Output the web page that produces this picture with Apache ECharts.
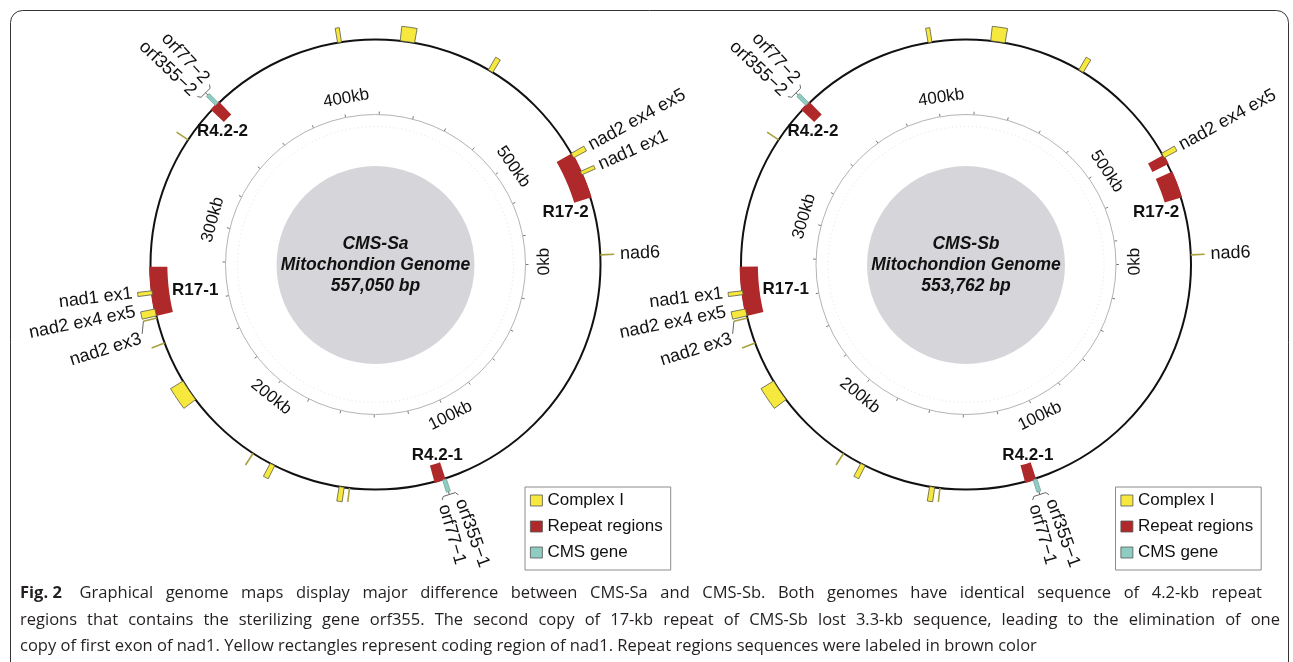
<!DOCTYPE html>
<html><head><meta charset="utf-8">
<script src="https://cdn.jsdelivr.net/npm/echarts@6/dist/echarts.min.js"></script>
<style>html,body{margin:0;padding:0;background:#fff}#c{width:1293px;height:662px}</style>
</head><body><div id="c"></div><script>
// ---------------- DATA ----------------
const GENOME_NAMES = ['CMS-Sa', 'CMS-Sb'];
const GENOME_LENGTHS = [557050, 553762];
const TICK_VALUES = [0, 100000, 200000, 300000, 400000, 500000];
const TICK_LABELS = ['0kb', '100kb', '200kb', '300kb', '400kb', '500kb'];
const TICK_STEP = 20000;

// Complex I genes [start, end] (bp)
const SA_COMPLEX1 = [
  [149320,149790],[151640,153650],[180420,182430],[190020,190480],[221430,230250],
  [246650,247110],[257020,257480],[258100,260880],[266610,268160],[330360,330830],
  [402780,404330],[427540,433260],[464370,466380],[511250,513260],[519290,520690],[553030,553500]];
const SB_COMPLEX1 = [
  [148440,148900],[150750,152750],[179360,181360],[188890,189360],[220120,228890],
  [245190,245650],[255500,255960],[256580,259350],[265040,266580],[328410,328870],
  [400400,401940],[425010,430700],[461620,463620],[508230,510230],[549760,550220]];

// Repeat regions [start, end]
const SA_REPEATS = [[111300,115800],[258100,277600],[345400,349900],[511400,530300]];
const SA_REPEAT_NAMES = ['R4.2-1','R17-1','R4.2-2','R17-2'];
const SB_REPEATS = [[110600,115100],[256600,276000],[343300,347800],[509150,513150],[516400,527150]];
const SB_REPEAT_NAMES = ['R4.2-1','R17-1','R4.2-2','','R17-2'];

// CMS genes [start, end]
const SA_CMS = [[110950,112500],[347850,349400]];
const SB_CMS = [[110290,111830],[345790,347330]];
const CMS_NAMES = [['orf355\u22121','orf77\u22121'],['orf355\u22122','orf77\u22122']];

// Gene labels: feature position, label position (bp), text
const SA_GENE_LABEL_FEATURE = [553260, 512250, 519990, 267380, 259490, 257250];
const SA_GENE_LABEL_AT      = [553260, 512250, 519990, 268000, 261200, 251450];
const SA_GENE_LABEL_TEXT    = ['nad6','nad2 ex4 ex5','nad1 ex1','nad1 ex1','nad2 ex4 ex5','nad2 ex3'];
const SB_GENE_LABEL_FEATURE = [549990, 509230, 265810, 257960, 255730];
const SB_GENE_LABEL_AT      = [549990, 509230, 266420, 259650, 249960];
const SB_GENE_LABEL_TEXT    = ['nad6','nad2 ex4 ex5','nad1 ex1','nad2 ex4 ex5','nad2 ex3'];

const CAPTION_LEAD = 'Fig. 2';
const CAPTION_LINES = [
  'Graphical genome maps display major difference between CMS-Sa and CMS-Sb. Both genomes have identical sequence of 4.2-kb repeat',
  'regions that contains the sterilizing gene orf355. The second copy of 17-kb repeat of CMS-Sb lost 3.3-kb sequence, leading to the elimination of one',
  'copy of first exon of nad1. Yellow rectangles represent coding region of nad1. Repeat regions sequences were labeled in brown color'
];

// ---------------- LAYOUT / STYLE ----------------
const CX = [375.5, 966], CY = 264.5;
const R_OUT = 225, R_TICK = 150, R_DOT = 138, R_DISK = 99;
const FONT = '"Liberation Sans", Arial, sans-serif';
const C_YELLOW = '#f6e83c', C_RED = '#b0292a', C_TEAL = '#8fcdc2', C_OLIVE = '#a9a03e';
const REPEAT_LABEL_LAYOUT = {
  'R17-2': {r: 87.6, ref: 1, dDeg: 2.0},
  'R17-1': {r: 80.9, ref: 0.5, dDeg: -1.1},
  'R4.2-2': {r: 90.2, ref: 0.5, dDeg: -3.6},
  'R4.2-1': {r: 89.3, ref: 0.5, dDeg: -1.3}
};
const CAP_FONT = '"Open Sans", "Noto Sans", sans-serif';
const CAP_SIZE = 16.5;
const CAP_X = 20, CAP_Y = [593, 620, 646], CAP_RIGHT = [1262, 1280, null];

const MAPS = [
  {L: GENOME_LENGTHS[0], cx: CX[0], complex: SA_COMPLEX1, rep: SA_REPEATS, repN: SA_REPEAT_NAMES, cms: SA_CMS,
   glF: SA_GENE_LABEL_FEATURE, glA: SA_GENE_LABEL_AT, glT: SA_GENE_LABEL_TEXT},
  {L: GENOME_LENGTHS[1], cx: CX[1], complex: SB_COMPLEX1, rep: SB_REPEATS, repN: SB_REPEAT_NAMES, cms: SB_CMS,
   glF: SB_GENE_LABEL_FEATURE, glA: SB_GENE_LABEL_AT, glT: SB_GENE_LABEL_TEXT}
];

// ---------------- HELPERS ----------------
function P(api, r, v) { const p = api.coord([r, v]); return [p[0], p[1]]; }
function scrDeg(api, r, v) {
  const c = P(api, 0, v), p = P(api, r, v);
  let d = Math.atan2(p[1] - c[1], p[0] - c[0]) * 180 / Math.PI;
  return (d % 360 + 360) % 360;
}
function arcPoly(api, r0, r1, v0, v1) {
  const n = Math.max(2, Math.ceil(Math.abs(v1 - v0) / 1500));
  const pts = [];
  for (let i = 0; i <= n; i++) pts.push(P(api, r1, v0 + (v1 - v0) * i / n));
  for (let i = n; i >= 0; i--) pts.push(P(api, r0, v0 + (v1 - v0) * i / n));
  return pts;
}
function txtStyle(text, font, fill, align, valign) {
  return {text: text, font: font, fill: fill, align: align, verticalAlign: valign,
          textAlign: align, textVerticalAlign: valign};
}
function radialText(api, r, v, text, font) {
  const p = P(api, r, v), th = scrDeg(api, r, v);
  let rot, align;
  if (th > 90 && th < 270) { rot = th - 180; align = 'right'; } else { rot = th; align = 'left'; }
  return {type: 'text', x: p[0], y: p[1], rotation: -rot * Math.PI / 180,
          style: txtStyle(text, font, '#111', align, 'middle')};
}

const series = [];
const polar = [], angleAxis = [], radiusAxis = [];
const hiddenRadius = (i) => ({polarIndex: i, type: 'value', min: 0, max: 100, show: false,
  splitLine: {show: false}, axisLine: {show: false}, axisTick: {show: false}, axisLabel: {show: false}});

MAPS.forEach((m, mi) => {
  const base = polar.length;
  // outer circle polar
  polar.push({center: [m.cx, CY], radius: [0, R_OUT]});
  angleAxis.push({polarIndex: base, type: 'value', min: 0, max: m.L, startAngle: 0, clockwise: true,
    axisLine: {show: true, lineStyle: {color: '#111', width: 2}}, axisTick: {show: false},
    axisLabel: {show: false}, splitLine: {show: false}, splitArea: {show: false}});
  radiusAxis.push(hiddenRadius(base));
  // tick ring polar
  polar.push({center: [m.cx, CY], radius: [0, R_TICK]});
  angleAxis.push({polarIndex: base + 1, type: 'value', min: 0, max: m.L, interval: TICK_STEP, startAngle: 0, clockwise: true,
    axisLine: {show: true, lineStyle: {color: '#b4b4b4', width: 1}},
    axisTick: {show: true, inside: false, length: 3, lineStyle: {color: '#777', width: 1}},
    axisLabel: {show: false}, splitLine: {show: false}, splitArea: {show: false}});
  radiusAxis.push(hiddenRadius(base + 1));
  // faint dotted ring
  polar.push({center: [m.cx, CY], radius: [0, R_DOT]});
  angleAxis.push({polarIndex: base + 2, type: 'value', min: 0, max: m.L, startAngle: 0, clockwise: true,
    axisLine: {show: true, lineStyle: {color: '#e4e4e4', width: 1, type: [1, 3]}}, axisTick: {show: false},
    axisLabel: {show: false}, splitLine: {show: false}, splitArea: {show: false}});
  radiusAxis.push(hiddenRadius(base + 2));

  // grey disk + title
  series.push({type: 'pie', name: 'disk' + mi, center: [m.cx, CY + 0.5], radius: [0, R_DISK], silent: true,
    itemStyle: {color: '#d6d6da'}, emphasis: {disabled: true}, labelLine: {show: false},
    data: [{value: 1, name: GENOME_NAMES[mi]}],
    label: {show: true, position: 'center', color: '#111',
      fontFamily: FONT, fontSize: 17.5, fontWeight: 'bold', fontStyle: 'italic', lineHeight: 21,
      formatter: () => GENOME_NAMES[mi] + '\nMitochondion Genome\n' + GENOME_LENGTHS[mi].toLocaleString('en-US') + ' bp'}});

  // tick labels
  series.push({type: 'custom', name: 'ticks' + mi, coordinateSystem: 'polar', polarIndex: base, silent: true,
    data: TICK_VALUES.map(v => [v]),
    renderItem: (params, api) => {
      const v0 = api.value(0), r = 75;
      const th0 = scrDeg(api, r, v0);
      const v = v0 + (th0 < 180 ? -1.0 : 1.5) / 360 * m.L;
      const p = P(api, r, v), th = scrDeg(api, r, v);
      const rot = th0 < 180 ? th - 90 : th + 90;
      return {type: 'text', x: p[0], y: p[1], rotation: -rot * Math.PI / 180,
        style: txtStyle(TICK_LABELS[params.dataIndex], '17px ' + FONT, '#111', 'center', 'middle')};
    }});

  // repeat regions
  series.push({type: 'custom', name: 'Repeat regions', coordinateSystem: 'polar', polarIndex: base, silent: true,
    itemStyle: {color: C_RED}, data: m.rep, z: 3,
    renderItem: (params, api) => {
      const v0 = api.value(0), v1 = api.value(1);
      const children = [{type: 'polygon', shape: {points: arcPoly(api, 92.5, 100.6, v0, v1)},
        style: {fill: C_RED, stroke: null}}];
      const nm = m.repN[params.dataIndex];
      const lay = REPEAT_LABEL_LAYOUT[nm];
      if (lay) {
        const v = v0 + (v1 - v0) * lay.ref + lay.dDeg / 360 * m.L;
        const p = P(api, lay.r, v);
        children.push({type: 'text', x: p[0], y: p[1],
          style: txtStyle(nm, 'bold 17px ' + FONT, '#111', 'center', 'middle')});
      }
      return {type: 'group', children: children};
    }});

  // complex I
  series.push({type: 'custom', name: 'Complex I', coordinateSystem: 'polar', polarIndex: base, silent: true,
    itemStyle: {color: C_YELLOW, borderColor: '#555', borderWidth: 0.8}, data: m.complex, z: 4,
    renderItem: (params, api) => {
      const v0 = api.value(0), v1 = api.value(1);
      const a = P(api, 103, v0), b = P(api, 103, v1);
      const w = Math.hypot(a[0] - b[0], a[1] - b[1]);
      if (w < 2.5) {
        const mid = (v0 + v1) / 2;
        return {type: 'polyline', shape: {points: [P(api, 100, mid), P(api, 106.2, mid)]},
          style: {stroke: C_OLIVE, lineWidth: 1.6, fill: null}};
      }
      return {type: 'polygon', shape: {points: arcPoly(api, 100, 106.5, v0, v1)},
        style: {fill: C_YELLOW, stroke: '#5a5a4a', lineWidth: 0.8}};
    }});

  // CMS genes
  series.push({type: 'custom', name: 'CMS gene', coordinateSystem: 'polar', polarIndex: base, silent: true,
    itemStyle: {color: C_TEAL, borderColor: '#555', borderWidth: 0.8}, data: m.cms, z: 4,
    renderItem: (params, api) => {
      const v0 = api.value(0), v1 = api.value(1), mid = (v0 + v1) / 2;
      const dv = 2.0 / 360 * m.L;
      const names = CMS_NAMES[params.dataIndex];
      const ln = {stroke: '#666', lineWidth: 1, fill: null};
      return {type: 'group', children: [
        {type: 'polygon', shape: {points: arcPoly(api, 100.3, 106, v0, v1)},
          style: {fill: C_TEAL, stroke: '#6e9d96', lineWidth: 0.7}},
        {type: 'polyline', shape: {points: [P(api, 106, mid), P(api, 107.4, mid)]}, style: ln},
        {type: 'polyline', shape: {points: [P(api, 108.8, mid - dv), P(api, 107.4, mid - dv * 0.75),
          P(api, 107.4, mid + dv * 0.75), P(api, 108.8, mid + dv)]}, style: ln},
        radialText(api, 111, mid - dv, names[0], '18px ' + FONT),
        radialText(api, 111, mid + dv, names[1], '18px ' + FONT)
      ]};
    }});

  // gene labels
  series.push({type: 'custom', name: 'genelabels' + mi, coordinateSystem: 'polar', polarIndex: base, silent: true,
    data: m.glF.map((f, i) => [f, m.glA[i]]), z: 5,
    renderItem: (params, api) => {
      const f = api.value(0), at = api.value(1);
      const children = [];
      const lead = Math.abs(f - at) / m.L * 360 > 2;
      if (lead) {
        children.push({type: 'polyline', shape: {points: [P(api, 106.2, f), P(api, 108.2, at + (f - at) * 0.25)]},
          style: {stroke: '#666', lineWidth: 1, fill: null}});
      }
      children.push(radialText(api, lead ? 109.3 : 108.8, at, m.glT[params.dataIndex], '18px ' + FONT));
      return {type: 'group', children: children};
    }});
});

const legendBase = {orient: 'vertical', top: 487, data: ['Complex I', 'Repeat regions', 'CMS gene'],
  icon: 'rect', itemWidth: 12, itemHeight: 11, itemGap: 9, selectedMode: false,
  borderColor: '#8c8c8c', borderWidth: 1, padding: [5, 8, 9, 5], backgroundColor: '#fff',
  itemStyle: {borderColor: '#555', borderWidth: 0.8},
  textStyle: {fontSize: 17, fontFamily: FONT, color: '#111', lineHeight: 17}};

// ---- caption, laid out word by word (justified lines, last line ragged) ----
const mctx = document.createElement('canvas').getContext('2d');
function capFont(bold) { return (bold ? 'bold ' : '') + CAP_SIZE + 'px ' + CAP_FONT; }
const captionEls = [];
CAPTION_LINES.forEach((line, li) => {
  const words = line.split(' ');
  const bolds = words.map(() => false);
  if (li === 0) { words.unshift(CAPTION_LEAD); bolds.unshift(true); }
  const widths = words.map((w, wi) => { mctx.font = capFont(bolds[wi]); return mctx.measureText(w).width; });
  mctx.font = capFont(false);
  const sp = mctx.measureText(' ').width;
  const extra0 = li === 0 ? sp * 1.2 : 0;   // wider gap after the figure number
  const total = widths.reduce((a, b) => a + b, 0) + extra0;
  let gap = sp;
  if (CAP_RIGHT[li]) gap = (CAP_RIGHT[li] - CAP_X - total) / (words.length - 1);
  let x = CAP_X;
  words.forEach((w, wi) => {
    captionEls.push({type: 'text', silent: true, x: x, y: CAP_Y[li],
      style: {text: w, font: capFont(bolds[wi]), fill: '#231f20', verticalAlign: 'middle', textVerticalAlign: 'middle'}});
    x += widths[wi] + gap + (wi === 0 ? extra0 : 0);
  });
});

const option = {
  animation: false,
  backgroundColor: '#fff',
  polar: polar, angleAxis: angleAxis, radiusAxis: radiusAxis,
  legend: [Object.assign({left: CX[0] + 149.5}, legendBase), Object.assign({left: CX[1] + 149.5}, legendBase)],
  series: series,
  graphic: [
    {type: 'rect', silent: true, shape: {x: 10.5, y: 10.5, width: 1278, height: 720, r: 12},
     style: {fill: 'none', stroke: '#333', lineWidth: 1}}
  ].concat(captionEls)
};
const chart = echarts.init(document.getElementById('c'), null, {renderer: 'canvas'});
chart.setOption(option);
</script></body></html>
